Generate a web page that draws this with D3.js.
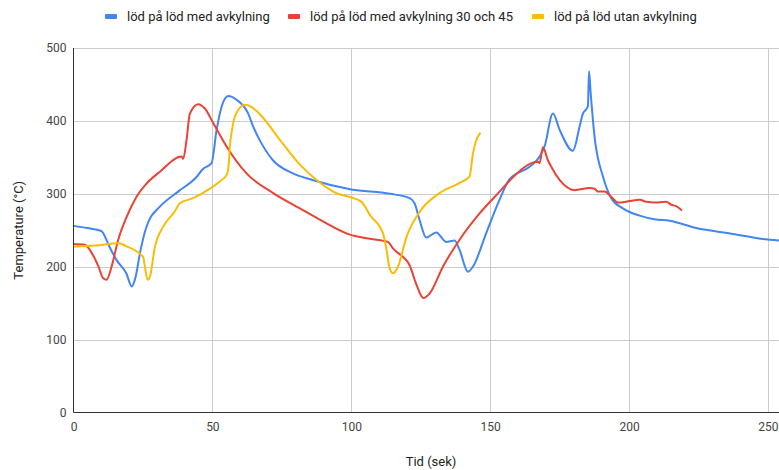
<!DOCTYPE html>
<html><head><meta charset="utf-8">
<script src="https://cdn.jsdelivr.net/npm/d3@7"></script>
<style>body{margin:0;background:#fff;font-family:Roboto,Arial,sans-serif}</style>
</head><body><svg id="c" width="779" height="470"></svg>
<script>
const seriesNames = ["löd på löd med avkylning", "löd på löd med avkylning 30 och 45", "löd på löd utan avkylning"];
const seriesColors = ["#4285F4", "#EA4335", "#FBBC04"];
const blueT = [0,5,10,13,15.5,19,21,22.3,24,25.5,27,31,38,44.3,46.6,49.7,51.5,53.3,55.7,58.7,62.9,64.7,67,71.8,79,86,100,114,121,122.8,124.6,127,130.6,134.2,137.2,139,142,143.8,148.6,153.4,157,164.2,167.8,169.6,172.6,175,179.8,182.2,183.4,184.6,185.2,185.6,186.2,187.6,190.6,193.6,197.8,203.8,209.2,214.6,224.2,237.3,248.1,254];
const blueV = [256,253,249,227,209,191,173,185,220,245,262,282,304,323,334,342,387,419,434,429,410,392,374,346,328,319,306,300,294,287,264,240,247,234,236,223,193,200,246,292,320,337,351,365,410,388,359,392,410,416,420,468,438,378,324,294,280,270,265,263,253,245,238,236];
const redT = [0,4,7,9,10.7,11.9,13.7,16.1,19.1,22.7,26.3,31,38.9,39.5,40.7,41.9,44.9,47.3,50.3,55.1,62.3,71.9,81.5,88,99.5,105.5,113.2,115,121,123.5,126,128.2,133,139,146.2,153.4,157,167.2,167.8,169,170.8,172,175,180.4,185.8,187.6,188.8,191.2,193.6,196,200.2,203.8,206.2,209.2,213.4,215.2,217,219.1];
const redV = [231,230,216,200,184,182,200,237,268,296,314,330,351,348,374,410,423,417,397,365,328,301,280,266,244,239,234,225,202,175,157,163,200,237,273,303,318,344,342,364,346,337,319,305,308,307,303,303,296,288,290,292,289,288,289,285,283,277];
const yellowT = [0,8,16.1,19.1,25.1,25.7,26.7,27.5,29.3,32.3,36.5,38.3,43.1,49.1,53.3,55.1,55.7,56.3,57.5,59.3,61.7,64.1,68.3,74.3,81.5,87.5,93.5,103.7,106.7,111.4,112.7,113.8,115,116.8,119.9,124.6,131.8,139,142.6,143.8,144.8,146.5];
const yellowV = [227.5,229,232,228,213,200,182,186,227,255,276,287,294,307,319,326,333,365,397,415,422,419,404,374,340,319,303,289,271,246,223,198,191,200,241,275,301,315,324,355,371,384];
const xTicks = [0,50,100,150,200,250];
const yTicks = [0,100,200,300,400,500];
const xTitle = "Tid (sek)", yTitle = "Temperature (°C)";

const svg = d3.select("#c");
const L = 73.5, R = 779, T = 48, B = 412.5;
const x = d3.scaleLinear().domain([0,254]).range([L,R]);
const y = d3.scaleLinear().domain([0,500]).range([B,T]);
const FF = "Roboto, Arial, sans-serif";

// grid
svg.append("g").selectAll("line").data(yTicks.filter(d=>d>0)).join("line")
  .attr("x1",L).attr("x2",R).attr("y1",d=>Math.round(y(d))+0.5).attr("y2",d=>Math.round(y(d))+0.5)
  .attr("stroke","#cccccc").attr("stroke-width",1);
svg.append("g").selectAll("line").data(xTicks.filter(d=>d>0)).join("line")
  .attr("y1",T).attr("y2",B).attr("x1",d=>Math.round(x(d))+0.5).attr("x2",d=>Math.round(x(d))+0.5)
  .attr("stroke","#cccccc").attr("stroke-width",1);

// axes
const xa = svg.append("g").attr("transform",`translate(0,${B})`)
  .call(d3.axisBottom(x).tickValues(xTicks).tickSize(0).tickPadding(10));
xa.select(".domain").remove();
xa.selectAll("text").attr("font-family",FF).attr("font-size",12).attr("fill","#444");
const ya = svg.append("g").attr("transform",`translate(${L},0)`)
  .call(d3.axisLeft(y).tickValues(yTicks).tickSize(0).tickPadding(7));
ya.select(".domain").remove();
ya.selectAll("text").attr("font-family",FF).attr("font-size",12).attr("fill","#444");

// series
svg.append("clipPath").attr("id","pc").append("rect").attr("x",L).attr("y",T-30).attr("width",R-L).attr("height",B-T+30);
const data = [[blueT,blueV],[redT,redV],[yellowT,yellowV]];
const line = d3.line().x(d=>x(d[0])).y(d=>y(d[1])).curve(d3.curveMonotoneX);
data.forEach((s,i)=>{
  const pts = s[0].map((t,j)=>[t,s[1][j]]);
  svg.append("path").datum(pts).attr("d",line).attr("fill","none")
    .attr("stroke",seriesColors[i]).attr("stroke-width",2).attr("stroke-linejoin","round")
    .attr("clip-path","url(#pc)");
});

// axis lines
svg.append("line").attr("x1",L).attr("x2",R).attr("y1",B).attr("y2",B).attr("stroke","#333").attr("stroke-width",1);
svg.append("line").attr("x1",L).attr("x2",L).attr("y1",T).attr("y2",B).attr("stroke","#333").attr("stroke-width",1);

// titles
svg.append("text").attr("x",431).attr("y",466).attr("text-anchor","middle")
  .attr("font-family",FF).attr("font-size",13).attr("fill","#222").text(xTitle);
svg.append("text").attr("transform",`translate(23,${(T+B)/2}) rotate(-90)`).attr("text-anchor","middle")
  .attr("font-family",FF).attr("font-size",13).attr("fill","#222").text(yTitle);

// legend
const legX = [105, 288, 532];
const lg = svg.append("g");
seriesNames.forEach((n,i)=>{
  lg.append("rect").attr("x",legX[i]).attr("y",14).attr("width",12).attr("height",5).attr("rx",1).attr("fill",seriesColors[i]);
  lg.append("text").attr("x",legX[i]+22).attr("y",21).attr("font-family",FF)
    .attr("font-size",13).attr("fill","#222").text(n);
});
</script></body></html>
